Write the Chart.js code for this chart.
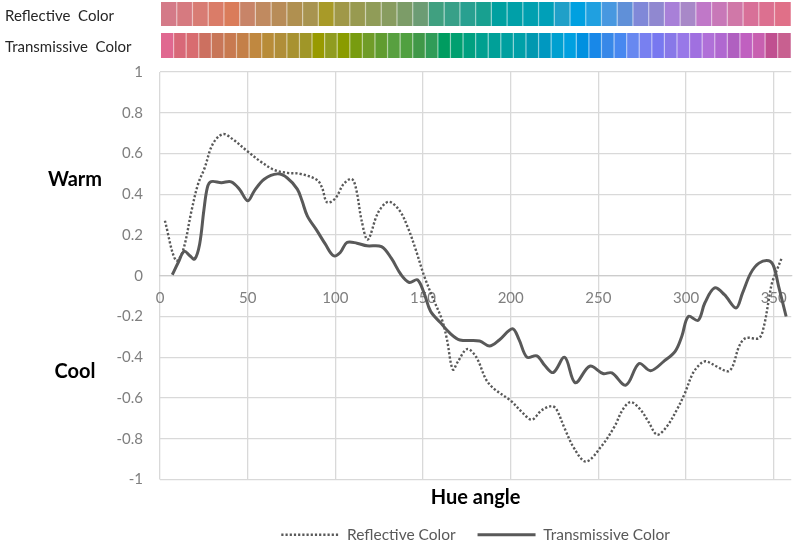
<!DOCTYPE html>
<html lang="en">
<head>
  <meta charset="UTF-8" />
  <title>Warm / Cool by hue angle</title>
  <script src="https://cdn.jsdelivr.net/npm/chart.js"></script>
  <style>
    html, body { margin: 0; padding: 0; background: #fff; }
    #wrap { position: relative; width: 800px; height: 560px; }
  </style>
</head>
<body>
  <div id="wrap"><canvas id="hueChart"></canvas></div>

  <script>
    const reflectiveHue = [2.8, 9, 13, 18, 21.7, 25.5, 30, 35.8, 41.5, 50, 57.5, 65, 72.6, 80, 89.6, 92.5, 95.3, 100,
      104.7, 109.4, 112, 115, 118.5, 124.4, 130.4, 136.6, 141.2, 145.9, 150.6, 156, 160.8, 163.6, 167, 170, 175.2,
      180.4, 186, 190.7, 200, 206.5, 212, 217.7, 223.3, 226, 230.8, 236.4, 243, 251.7, 259.2, 263.9, 268.5, 274,
      278.8, 283.5, 289, 294.8, 299.4, 304, 308.8, 311.6, 317.2, 323.8, 326.6, 330.3, 334, 341.6, 344.4, 347.2,
      349, 351.9, 354.7];
    const reflectiveValue = [0.27, 0.075, 0.12, 0.32, 0.45, 0.53, 0.645, 0.695, 0.67, 0.61, 0.56, 0.52, 0.505, 0.5, 0.47,
      0.43, 0.36, 0.38, 0.45, 0.475, 0.42, 0.27, 0.178, 0.31, 0.363, 0.32, 0.24, 0.127, 0, -0.117, -0.215, -0.31,
      -0.46, -0.42, -0.36, -0.4, -0.51, -0.556, -0.613, -0.67, -0.706, -0.66, -0.64, -0.654, -0.75, -0.85, -0.912,
      -0.837, -0.74, -0.657, -0.62, -0.657, -0.72, -0.78, -0.74, -0.657, -0.575, -0.477, -0.428, -0.42, -0.444,
      -0.469, -0.444, -0.346, -0.306, -0.306, -0.248, -0.118, -0.036, 0.03, 0.09];

    const transmissiveHue = [7, 10.4, 13.8, 17, 19.8, 22.6, 25, 27, 29.2, 35, 40.6, 45.3, 50, 53.8, 59.4, 67, 72.6, 78.3,
      81, 84, 89.6, 94.3, 99, 102.8, 106.6, 112.3, 118, 126.3, 131.9, 137.5, 142.2, 146.8, 150.6, 154.3, 159.9,
      165.5, 171, 182.3, 187.9, 193.5, 201, 204.7, 209.3, 214.9, 219.6, 224.3, 230.8, 236.8, 245.1, 252.6, 257.7,
      265.7, 273.2, 279.8, 287.3, 293.8, 297.6, 301.3, 306.9, 310.7, 316.3, 321.9, 328.5, 332.2, 336.9, 341.6,
      347.2, 350, 352.8, 357.1];
    const transmissiveValue = [0.005, 0.065, 0.12, 0.098, 0.082, 0.155, 0.32, 0.433, 0.462, 0.457, 0.461, 0.425, 0.368,
      0.417, 0.474, 0.5, 0.48, 0.425, 0.368, 0.294, 0.22, 0.155, 0.098, 0.114, 0.163, 0.16, 0.147, 0.143, 0.086,
      0.005, -0.033, -0.02, -0.085, -0.174, -0.23, -0.283, -0.315, -0.32, -0.345, -0.315, -0.26, -0.312, -0.4,
      -0.393, -0.442, -0.475, -0.4, -0.525, -0.444, -0.48, -0.477, -0.537, -0.431, -0.466, -0.42, -0.371, -0.297,
      -0.2, -0.219, -0.134, -0.06, -0.093, -0.158, -0.085, 0.013, 0.062, 0.074, 0.046, -0.052, -0.2];

    const stripLabels = ['Reflective  Color', 'Transmissive  Color'];
    const reflectiveSwatches = ['#d47a88', '#d67a80', '#d87c74', '#da7c68', '#da7c5a', '#c88468', '#c08a60', '#b88c58',
      '#b09050', '#a89450', '#a89a28', '#a09848', '#989a50', '#909c58', '#889c60', '#7c9c68', '#6c9c74', '#40a080',
      '#38a088', '#28a090', '#18a090', '#00a0a0', '#00a0a8', '#00a0b0', '#00a0b8', '#20a0c8', '#00a0e0', '#20a0e0',
      '#4898e0', '#6090d8', '#8088d8', '#9088d0', '#a880d8', '#a888c8', '#c078c8', '#c878b8', '#d078a8', '#d87098',
      '#dc7090', '#e07088'];
    const transmissiveSwatches = ['#e06890', '#d86878', '#d86c70', '#cc7060', '#c87658', '#c87a50', '#c48048', '#c08840',
      '#b88c38', '#b08e38', '#a89230', '#a09628', '#989a00', '#909c20', '#8a9c00', '#789c10', '#709c28', '#609c30',
      '#58a040', '#50a040', '#409848', '#309c58', '#009c60', '#00a070', '#00a080', '#00a090', '#00a098', '#00a0a0',
      '#00a0a8', '#0098b0', '#0098c0', '#00a0d0', '#00a0e0', '#0090e0', '#1888e8', '#3888e8', '#4888f0', '#6888f0',
      '#7880f0', '#7878f0', '#8878e8', '#9878e8', '#a070e0', '#b070d8', '#b068d0', '#b060c0', '#c060c0', '#c860b0',
      '#c05090', '#c86090'];

    const sideLabels = ['Warm', 'Cool'];
    const sideLabelValues = [0.47, -0.47];

    const lineColor = '#595959';
    const gridColor = '#d9d9d9';

    Chart.defaults.font.family = 'Lato, "Open Sans", sans-serif';
    Chart.defaults.font.size = 15;

    function drawStrip(ctx, colors, left, right, top, bottom) {
      const w = (right - left) / colors.length;
      colors.forEach((c, i) => {
        ctx.fillStyle = c;
        ctx.fillRect(left + i * w, top, w + 0.5, bottom - top);
      });
      ctx.strokeStyle = 'rgba(255,255,255,0.55)';
      ctx.lineWidth = 1.2;
      for (let i = 1; i < colors.length; i++) {
        const x = left + i * w;
        ctx.beginPath();
        ctx.moveTo(x, top);
        ctx.lineTo(x, bottom);
        ctx.stroke();
      }
    }

    const decorPlugin = {
      id: 'decor',
      afterDraw(chart) {
        const { ctx, chartArea } = chart;
        const yScale = chart.scales.y;
        ctx.save();

        // colour strips above the plot
        drawStrip(ctx, reflectiveSwatches, chartArea.left + 1, chartArea.right - 1, 2, 26);
        drawStrip(ctx, transmissiveSwatches, chartArea.left + 1, chartArea.right - 1, 33, 58);
        ctx.fillStyle = '#262626';
        ctx.font = '15px Lato, "Open Sans", sans-serif';
        ctx.textAlign = 'left';
        ctx.textBaseline = 'middle';
        ctx.fillText(stripLabels[0], 5, 16);
        ctx.fillText(stripLabels[1], 5, 47);

        // Warm / Cool
        ctx.fillStyle = '#000';
        ctx.font = 'bold 20px Lato, "Open Sans", sans-serif';
        ctx.textAlign = 'center';
        sideLabels.forEach((t, i) => {
          ctx.fillText(t, 75, yScale.getPixelForValue(sideLabelValues[i]));
        });
        ctx.restore();
      }
    };

    function fmt(v) {
      return String(Math.round(v * 10) / 10);
    }

    document.addEventListener('DOMContentLoaded', () => {
      const ctx = document.getElementById('hueChart').getContext('2d');
      new Chart(ctx, {
        type: 'line',
        data: {
          datasets: [
            {
              label: 'Reflective Color',
              data: reflectiveHue.map((h, i) => ({ x: h, y: reflectiveValue[i] })),
              borderColor: lineColor,
              backgroundColor: lineColor,
              borderWidth: 2.4,
              borderDash: [2.2, 2],
              pointRadius: 0,
              tension: 0.35,
              fill: false
            },
            {
              label: 'Transmissive Color',
              data: transmissiveHue.map((h, i) => ({ x: h, y: transmissiveValue[i] })),
              borderColor: lineColor,
              backgroundColor: lineColor,
              borderWidth: 3,
              pointRadius: 0,
              tension: 0.35,
              fill: false
            }
          ]
        },
        options: {
          responsive: true,
          maintainAspectRatio: false,
          animation: false,
          layout: { padding: { top: 72, right: 2, left: 0, bottom: 7.5 } },
          scales: {
            x: {
              type: 'linear',
              min: 0,
              max: 360,
              position: { y: 0 },
              afterFit(scale) { scale.height = 0; },
              grid: { color: gridColor, lineWidth: 1.3, drawTicks: false },
              border: { color: '#cccccc', width: 1.3 },
              ticks: {
                stepSize: 50,
                includeBounds: false,
                padding: 13,
                color: '#7f7f7f',
                maxRotation: 0
              }
            },
            y: {
              min: -1,
              max: 1,
              afterFit(scale) { scale.width = 160; },
              grid: { color: gridColor, lineWidth: 1.3, drawTicks: false },
              border: { display: false },
              ticks: {
                stepSize: 0.2,
                padding: 17,
                color: '#7f7f7f',
                callback: v => fmt(v)
              }
            }
          },
          plugins: {
            tooltip: { enabled: false },
            title: {
              display: true,
              text: 'Hue angle',
              position: 'bottom',
              fullSize: false,
              color: '#000',
              font: { size: 20, weight: 'bold' },
              padding: { top: 6, bottom: 7.5 }
            },
            legend: {
              position: 'bottom',
              fullSize: false,
              weight: 3000,
              labels: {
                usePointStyle: true,
                pointStyle: 'line',
                pointStyleWidth: 58,
                padding: 10,
                color: lineColor,
                font: { size: 15.5 },
                generateLabels(chart) {
                  const items = Chart.defaults.plugins.legend.labels.generateLabels(chart);
                  items.forEach((it, i) => {
                    const ds = chart.data.datasets[it.datasetIndex];
                    it.lineDash = ds.borderDash || [];
                    it.lineWidth = ds.borderWidth;
                    it.strokeStyle = ds.borderColor;
                    // a little more room between the two entries
                    if (i < items.length - 1) it.text += '   ';
                  });
                  return items;
                }
              }
            }
          }
        },
        plugins: [decorPlugin]
      });
    });
  </script>
</body>
</html>
